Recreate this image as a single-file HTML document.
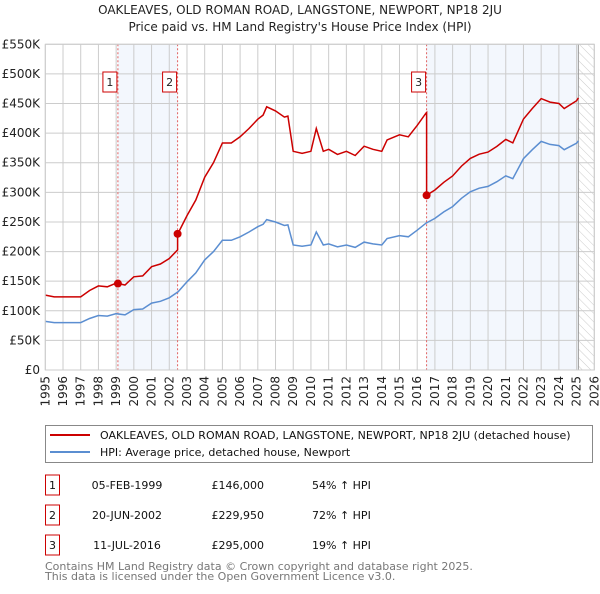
<!DOCTYPE html>
<html><head><meta charset="utf-8"><style>
body{margin:0;background:#fff;width:600px;height:590px;overflow:hidden;font-family:"DejaVu Sans","Liberation Sans",sans-serif;}
svg text{font-family:"DejaVu Sans","Liberation Sans",sans-serif;}
</style></head><body>
<svg id="chart" width="600" height="590" viewBox="0 0 600 590" xmlns="http://www.w3.org/2000/svg">
<defs><pattern id="hatch" width="6" height="6" patternUnits="userSpaceOnUse" patternTransform="rotate(-45)"><line x1="0" y1="0" x2="0" y2="6" stroke="#ccc" stroke-width="1"/></pattern></defs>
<text x="300" y="14" text-anchor="middle" font-size="12" fill="#222">OAKLEAVES, OLD ROMAN ROAD, LANGSTONE, NEWPORT, NP18 2JU</text>
<text x="300" y="31" text-anchor="middle" font-size="12" fill="#222">Price paid vs. HM Land Registry's House Price Index (HPI)</text>
<g id="plot"></g>
<rect x="45.5" y="425.5" width="547" height="37" fill="#fff" stroke="#888"/>
<line x1="50" y1="435" x2="90" y2="435" stroke="#cc0000" stroke-width="2"/>
<text x="100" y="439" font-size="11" fill="#111">OAKLEAVES, OLD ROMAN ROAD, LANGSTONE, NEWPORT, NP18 2JU (detached house)</text>
<line x1="50" y1="452" x2="90" y2="452" stroke="#5b8ed1" stroke-width="2"/>
<text x="100" y="456" font-size="11" fill="#111">HPI: Average price, detached house, Newport</text>
<g id="table" font-size="11" fill="#111"></g>
<text x="45" y="570" font-size="11" fill="#777">Contains HM Land Registry data © Crown copyright and database right 2025.</text>
<text x="45" y="580" font-size="11" fill="#777">This data is licensed under the Open Government Licence v3.0.</text>
</svg>
<script>
const yTicks=[0,50,100,150,200,250,300,350,400,450,500,550];
const yTickLabels=["£0","£50K","£100K","£150K","£200K","£250K","£300K","£350K","£400K","£450K","£500K","£550K"];
const xYears=[1995,1996,1997,1998,1999,2000,2001,2002,2003,2004,2005,2006,2007,2008,2009,2010,2011,2012,2013,2014,2015,2016,2017,2018,2019,2020,2021,2022,2023,2024,2025,2026];
const hpiDates=[1995.0,1995.5,1996.0,1996.5,1997.0,1997.5,1998.0,1998.5,1999.0,1999.5,2000.0,2000.5,2001.0,2001.5,2002.0,2002.5,2003.0,2003.5,2004.0,2004.5,2005.0,2005.5,2006.0,2006.5,2007.0,2007.3,2007.5,2008.0,2008.5,2008.7,2009.0,2009.5,2010.0,2010.3,2010.7,2011.0,2011.5,2012.0,2012.5,2013.0,2013.5,2014.0,2014.3,2015.0,2015.5,2016.0,2016.5,2017.0,2017.5,2018.0,2018.5,2019.0,2019.5,2020.0,2020.5,2021.0,2021.4,2022.0,2022.5,2023.0,2023.5,2024.0,2024.3,2025.0,2025.1];
const hpiValues=[82,80,80,80,80,87,92,91,95,93,102,103,113,116,122,132,149,164,186,200,219,219,225,233,242,246,254,250,244,245,211,209,211,233,211,213,208,211,207,216,213,211,222,227,225,236,248,256,267,276,290,301,307,310,318,328,323,357,372,386,381,379,372,383,387];
const saleDates=[1999.1,2002.47,2016.53];
const salePrices=[146,229.95,295];
const saleLabels=["1","2","3"];
const saleDateText=["05-FEB-1999","20-JUN-2002","11-JUL-2016"];
const salePriceText=["£146,000","£229,950","£295,000"];
const saleHpiText=["54% ↑ HPI","72% ↑ HPI","19% ↑ HPI"];

const X0=45.3,X1=594.3,Y0=370,Y1=44.3;
const xs=d=>X0+(d-1995)*(X1-X0)/31;
const ys=v=>Y0-v*(Y0-Y1)/550;
const NS="http://www.w3.org/2000/svg";
const plot=document.getElementById('plot');
function mk(tag,attrs,parent){const e=document.createElementNS(NS,tag);for(const k in attrs)e.setAttribute(k,attrs[k]);(parent||plot).appendChild(e);return e;}
function hpiAt(d){for(let i=1;i<hpiDates.length;i++){if(d<=hpiDates[i]){const t=(d-hpiDates[i-1])/(hpiDates[i]-hpiDates[i-1]);return hpiValues[i-1]+t*(hpiValues[i]-hpiValues[i-1]);}}return hpiValues[hpiValues.length-1];}
// shading
let r=mk('rect',{x:xs(saleDates[0]),y:Y1,width:xs(saleDates[1])-xs(saleDates[0]),height:Y0-Y1,fill:'#eef3fc',opacity:0.7});


const lastD=hpiDates[hpiDates.length-1];
r=mk('rect',{x:xs(saleDates[2]),y:Y1,width:xs(lastD)-xs(saleDates[2]),height:Y0-Y1,fill:'#eef3fc',opacity:0.7});


r=mk('rect',{x:xs(lastD),y:Y1,width:X1-xs(lastD),height:Y0-Y1,fill:'url(#hatch)'});


// grid
yTicks.forEach((v,i)=>{
 let l=mk('line',{x1:X0,x2:X1,y1:ys(v),y2:ys(v),stroke:'#ccc','stroke-width':1});
 
 
 let t=mk('text',{x:40,y:ys(v)+4,'text-anchor':'end','font-size':12,fill:'#222'});
 t.textContent=yTickLabels[i];
 
 
});
xYears.forEach(y=>{
 let l=mk('line',{x1:xs(y),x2:xs(y),y1:Y1,y2:Y0,stroke:'#ccc','stroke-width':1});
 
 
 let t=mk('text',{x:0,y:0,'text-anchor':'end','font-size':12,fill:'#222',transform:`translate(${xs(y)+4},376) rotate(-90)`});
 t.textContent=y;
 
 
});
let l=mk('line',{x1:xs(lastD),x2:xs(lastD),y1:Y1,y2:Y0,stroke:'#999','stroke-width':1});


// sale vertical lines
saleDates.forEach((d,i)=>{
 let v=mk('line',{x1:xs(d),x2:xs(d),y1:Y1,y2:Y0,stroke:'#e06060','stroke-width':1,'stroke-dasharray':'2,2'});
 
 
});
// hpi line
let hp=hpiDates.map((d,i)=>xs(d).toFixed(1)+','+ys(hpiValues[i]).toFixed(1)).join(' ');
let hl=mk('polyline',{points:hp,fill:'none',stroke:'#5b8ed1','stroke-width':1.5});


// property line: HPI indexed to each sale
const ratios=saleDates.map((d,i)=>salePrices[i]/hpiAt(d));
let pts=[];
hpiDates.forEach((d,i)=>{
 let k=0;for(let j=0;j<saleDates.length;j++){if(d>=saleDates[j])k=j;}
 if(d<saleDates[0])k=0;
 // insert sale points
 pts.push([d,hpiValues[i]*ratios[k]]);
});
saleDates.forEach((d,j)=>{const prev=j===0?0:j-1;pts.push([d-0.001,hpiAt(d)*ratios[prev]]);pts.push([d,salePrices[j]]);});
pts.sort((a,b)=>a[0]-b[0]);
let pl=mk('polyline',{points:pts.map(p=>xs(p[0]).toFixed(1)+','+ys(p[1]).toFixed(1)).join(' '),fill:'none',stroke:'#cc0000','stroke-width':1.5});


saleDates.forEach((d,i)=>{
 let c=mk('circle',{cx:xs(d),cy:ys(salePrices[i]),r:4,fill:'#cc0000'});
 
 
 let b=mk('rect',{x:xs(d)-15,y:72,width:14,height:20,fill:'#fff',stroke:'#cc0000'});
 
 
 let t=mk('text',{x:xs(d)-8,y:86,'text-anchor':'middle','font-size':11,fill:'#222'});
 t.textContent=saleLabels[i];
 
 
});
let ax=mk('rect',{x:X0,y:Y1,width:X1-X0,height:Y0-Y1,fill:'none',stroke:'#ccc'});


// table
const tbl=document.getElementById('table');
saleLabels.forEach((s,i)=>{
 const cy=485+i*30;
 let b=mk('rect',{x:45.5,y:cy-10,width:14,height:20,fill:'#fff',stroke:'#cc0000'},tbl);
 
 
 let t=mk('text',{x:52.5,y:cy+4,'text-anchor':'middle'},tbl);t.textContent=s;
 
 
 t=mk('text',{x:127,y:cy+4,'text-anchor':'middle'},tbl);t.textContent=saleDateText[i];
 
 
 t=mk('text',{x:264,y:cy+4,'text-anchor':'end'},tbl);t.textContent=salePriceText[i];
 
 
 t=mk('text',{x:312,y:cy+4},tbl);t.textContent=saleHpiText[i];
 
 
});
</script>
</body></html>
